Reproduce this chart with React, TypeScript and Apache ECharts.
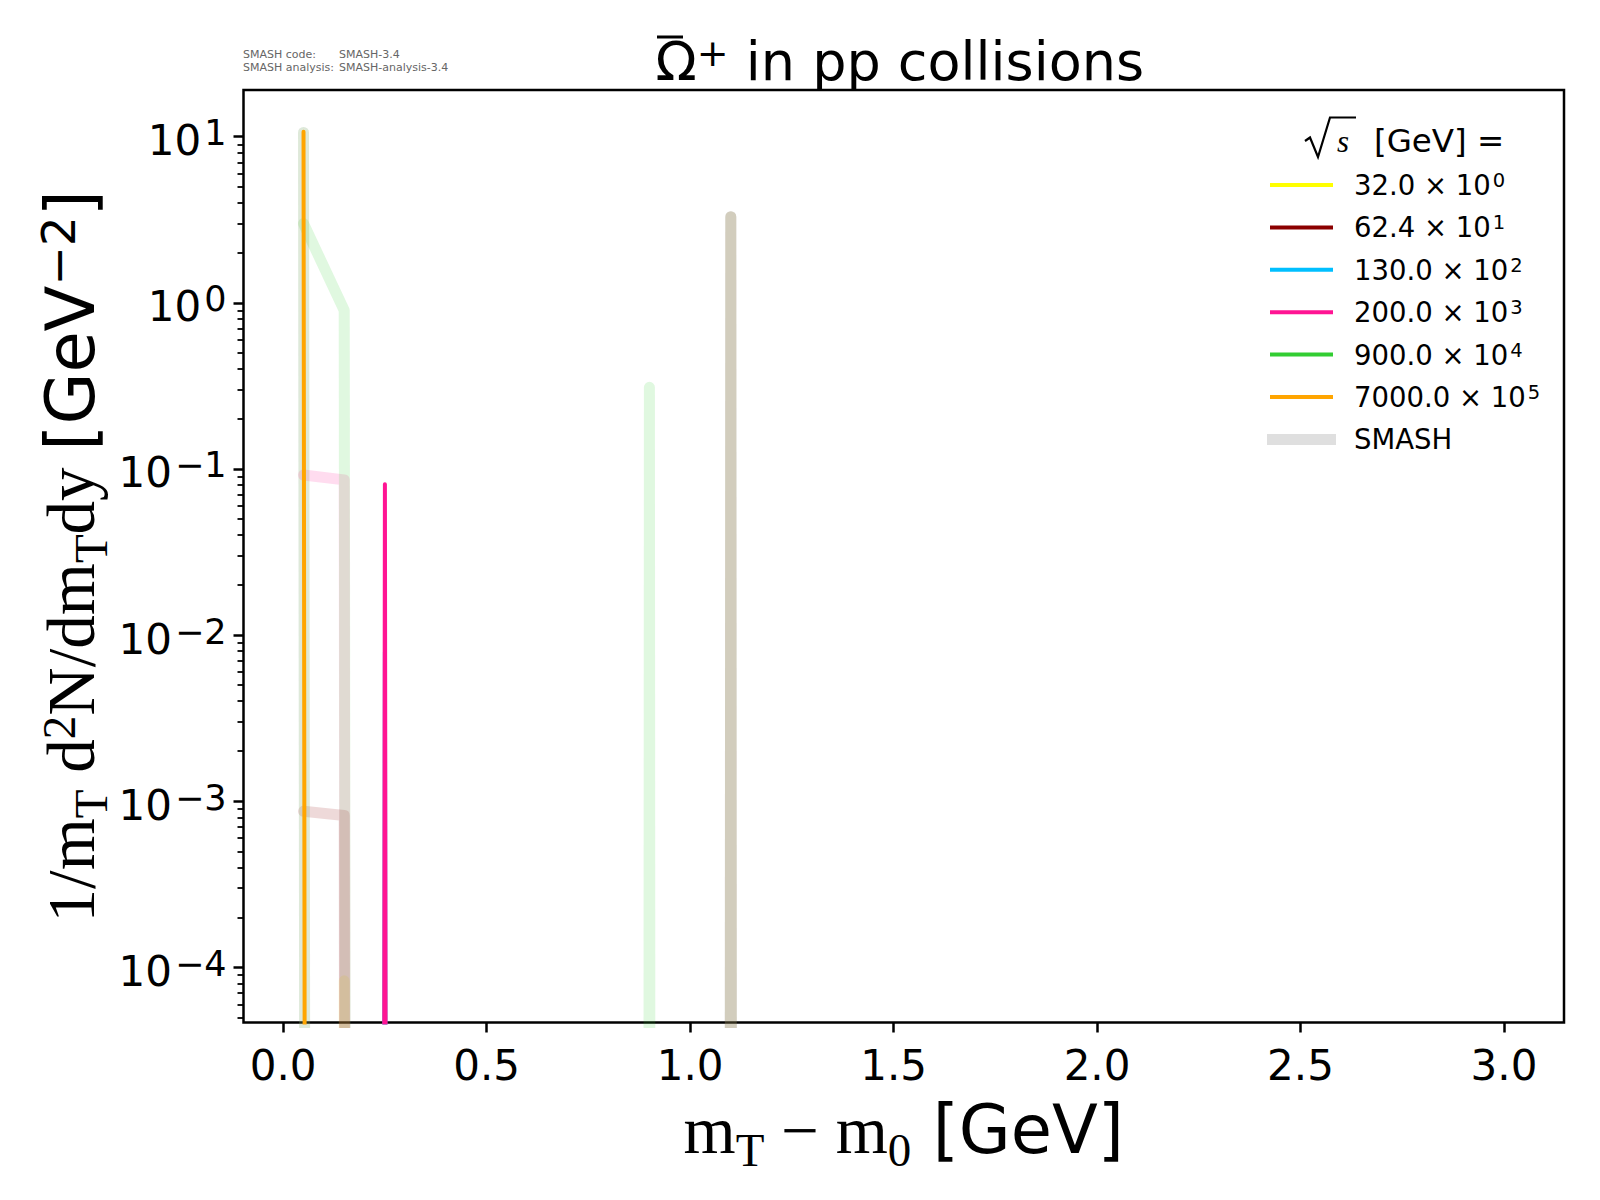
import React, { useEffect, useRef } from 'react';
import * as echarts from 'echarts';

// ---------- data ----------
const ENERGY_LABELS = ['32.0', '62.4', '130.0', '200.0', '900.0', '7000.0'];
const ENERGY_EXPONENTS = [0, 1, 2, 3, 4, 5];
const ENERGY_COLORS = ['#FFFF00', '#8B0000', '#00BFFF', '#FF1493', '#32CD32', '#FFA500'];

// SMASH curves (thick, translucent). 0 = empty bin (drawn down to -inf on the log axis)
const SMASH_32_X = [0.05, 0.15, 0.25, 3.0];
const SMASH_32_Y = [0, 8.3e-5, 0, 0];
const SMASH_62_X = [0.05, 0.15, 0.25, 1.05, 1.1, 1.15, 3.0];
const SMASH_62_Y = [8.7e-4, 8.2e-4, 0, 0, 3.3, 0, 0];
const SMASH_130_X = [0.05, 0.15, 1.05, 1.1, 1.15, 3.0];
const SMASH_130_Y = [10.6, 0, 0, 3.3, 0, 0];
const SMASH_200_X = [0.05, 0.15, 0.25, 3.0];
const SMASH_200_Y = [0.092, 0.086, 0, 0];
const SMASH_900_X = [0.05, 0.15, 0.25, 0.85, 0.9, 0.95, 3.0];
const SMASH_900_Y = [3.0, 0.9, 0, 0, 0.31, 0, 0];
const SMASH_7000_X = [0.05, 0.15, 1.05, 1.1, 1.15, 3.0];
const SMASH_7000_Y = [10.6, 0, 0, 3.3, 0, 0];

// Experimental data (thin lines)
const EXP_32_X = [0.05, 3.0];
const EXP_32_Y = [0, 0];
const EXP_62_X = [0.05, 3.0];
const EXP_62_Y = [0, 0];
const EXP_130_X = [0.15, 0.25, 0.35];
const EXP_130_Y = [0, 0.0079, 0];
const EXP_200_X = [0.15, 0.25, 0.35];
const EXP_200_Y = [0, 0.081, 0];
const EXP_900_X = [0.05, 3.0];
const EXP_900_Y = [0, 0];
const EXP_7000_X = [0.05, 0.15];
const EXP_7000_Y = [10.7, 0];

const SMASH_XS = [SMASH_32_X, SMASH_62_X, SMASH_130_X, SMASH_200_X, SMASH_900_X, SMASH_7000_X];
const SMASH_YS = [SMASH_32_Y, SMASH_62_Y, SMASH_130_Y, SMASH_200_Y, SMASH_900_Y, SMASH_7000_Y];
const EXP_XS = [EXP_32_X, EXP_62_X, EXP_130_X, EXP_200_X, EXP_900_X, EXP_7000_X];
const EXP_YS = [EXP_32_Y, EXP_62_Y, EXP_130_Y, EXP_200_Y, EXP_900_Y, EXP_7000_Y];

const X_TICKS = [0, 0.5, 1.0, 1.5, 2.0, 2.5, 3.0];
const Y_TICKS = [1e-4, 1e-3, 1e-2, 1e-1, 1, 10];
const X_MIN = -0.0975;
const X_MAX = 3.1475;
const Y_MIN = 4.66e-5;
const Y_MAX = 19.1;

// ---------- helpers ----------
const LOG_FLOOR = 1e-200; // stand-in for zero on the log axis
const toPairs = (xs: number[], ys: number[]) => xs.map((x, i) => [x, ys[i] > 0 ? ys[i] : LOG_FLOOR]);

const yMinor: number[] = [];
for (let k = -5; k <= 1; k++) {
  for (let m = 2; m <= 9; m++) {
    const v = m * Math.pow(10, k);
    if (v > Y_MIN && v < Y_MAX) yMinor.push(v);
  }
}

const supDigits = (e: number) => (e < 0 ? '\u2212' + String(-e) : String(e));

const NAME_RICH = {
  r: { fontFamily: 'Liberation Serif', fontSize: 67, lineHeight: 88, color: '#000', fontWeight: 'normal' },
  rsub: { fontFamily: 'Liberation Serif', fontSize: 47, lineHeight: 47, verticalAlign: 'bottom', color: '#000', fontWeight: 'normal' },
  rsup: { fontFamily: 'Liberation Serif', fontSize: 47, lineHeight: 47, verticalAlign: 'top', padding: [8.5, 0, 0, 0], color: '#000', fontWeight: 'normal' },
  g: { fontFamily: 'DejaVu Sans', fontSize: 67, lineHeight: 88, color: '#000', fontWeight: 'normal' },
  gsup: { fontFamily: 'DejaVu Sans', fontSize: 47, lineHeight: 47, verticalAlign: 'top', padding: [8.5, 0, 0, 0], color: '#000', fontWeight: 'normal' },
};

const TICK_STYLE = { color: '#000', width: 2.5 };

function buildOption() {
  const series: any[] = [];
  SMASH_XS.forEach((xs, i) => {
    series.push({
      type: 'line',
      name: 'SMASH ' + ENERGY_LABELS[i],
      data: toPairs(xs, SMASH_YS[i]),
      showSymbol: false,
      symbol: 'none',
      silent: true,
      clip: true,
      lineStyle: { color: ENERGY_COLORS[i], width: 11, opacity: 0.15, cap: 'round', join: 'round' },
      itemStyle: { color: ENERGY_COLORS[i] },
    });
  });
  EXP_XS.forEach((xs, i) => {
    series.push({
      type: 'line',
      name: ENERGY_LABELS[i],
      data: toPairs(xs, EXP_YS[i]),
      showSymbol: false,
      symbol: 'none',
      silent: true,
      clip: true,
      lineStyle: { color: ENERGY_COLORS[i], width: 4, opacity: 1, cap: 'round', join: 'round' },
      itemStyle: { color: ENERGY_COLORS[i] },
    });
  });

  // legend drawn as graphic (matplotlib style)
  const legendX0 = 1270;
  const legendX1 = 1333;
  const legendTextX = 1354;
  const legendY0 = 185;
  const legendStep = 42.4;
  const graphic: any[] = [];
  ENERGY_LABELS.forEach((lab, i) => {
    const y = legendY0 + i * legendStep;
    graphic.push({
      type: 'line',
      shape: { x1: legendX0, y1: y, x2: legendX1, y2: y },
      style: { stroke: ENERGY_COLORS[i], lineWidth: 4 },
      silent: true,
    });
    graphic.push({
      type: 'text',
      x: legendTextX,
      y,
      silent: true,
      style: {
        text: `{b|${lab} \u00d7 10}{s|${ENERGY_EXPONENTS[i]}}`,
        align: 'left',
        verticalAlign: 'middle',
        textAlign: 'left',
        textVerticalAlign: 'middle',
        rich: {
          b: { fontFamily: 'DejaVu Sans', fontSize: 27.5, lineHeight: 29, fill: '#000', color: '#000' },
          s: { fontFamily: 'DejaVu Sans', fontSize: 19.5, lineHeight: 15, verticalAlign: 'top', fill: '#000', color: '#000', padding: [0, 0, 0, 2] },
        },
      },
    });
  });
  const smashY = legendY0 + ENERGY_LABELS.length * legendStep;
  graphic.push({
    type: 'line',
    shape: { x1: 1267, y1: smashY, x2: 1336, y2: smashY },
    style: { stroke: '#DFDFDF', lineWidth: 11 },
    silent: true,
  });
  graphic.push({
    type: 'text',
    x: legendTextX,
    y: smashY,
    silent: true,
    style: {
      text: 'SMASH',
      fontFamily: 'DejaVu Sans',
      fontSize: 27.5,
      fill: '#000',
      align: 'left',
      verticalAlign: 'middle',
      textAlign: 'left',
      textVerticalAlign: 'middle',
    },
  });
  // legend title: sqrt(s) [GeV] =
  graphic.push({
    type: 'polyline',
    shape: { points: [[1305, 141], [1310, 137.5], [1318, 157], [1330, 117.5], [1356, 117.5]] },
    style: { stroke: '#000', lineWidth: 2.2, fill: null },
    silent: true,
  });
  graphic.push({
    type: 'text',
    x: 1337,
    y: 141,
    silent: true,
    style: {
      text: 's',
      fontFamily: 'Liberation Serif',
      fontStyle: 'italic',
      fontSize: 31,
      fill: '#000',
      align: 'left',
      verticalAlign: 'middle',
      textAlign: 'left',
      textVerticalAlign: 'middle',
    },
  });
  graphic.push({
    type: 'text',
    x: 1374,
    y: 141,
    silent: true,
    style: {
      text: '[GeV] =',
      fontFamily: 'DejaVu Sans',
      fontSize: 32.5,
      fill: '#000',
      align: 'left',
      verticalAlign: 'middle',
      textAlign: 'left',
      textVerticalAlign: 'middle',
    },
  });
  // bar over Omega (antiparticle)
  graphic.push({
    type: 'line',
    shape: { x1: 657, y1: 37, x2: 683, y2: 37 },
    style: { stroke: '#000', lineWidth: 3 },
    silent: true,
  });
  // SMASH version info
  const meta = [
    { x: 243, y: 54, t: 'SMASH code:' },
    { x: 339, y: 54, t: 'SMASH-3.4' },
    { x: 243, y: 67, t: 'SMASH analysis:' },
    { x: 339, y: 67, t: 'SMASH-analysis-3.4' },
  ];
  meta.forEach((m) => {
    graphic.push({
      type: 'text',
      x: m.x,
      y: m.y,
      silent: true,
      style: {
        text: m.t,
        fontFamily: 'DejaVu Sans',
        fontSize: 11,
        fill: '#666',
        align: 'left',
        verticalAlign: 'middle',
        textAlign: 'left',
        textVerticalAlign: 'middle',
      },
    });
  });

  return {
    animation: false,
    backgroundColor: '#ffffff',
    title: {
      text: '{t|\u03a9}{ts|+}{t| in pp collisions}',
      left: 655.5,
      top: 34,
      padding: 0,
      textStyle: {
        fontWeight: 'normal',
        rich: {
          t: { fontFamily: 'DejaVu Sans', fontSize: 54, lineHeight: 54, color: '#000', fontWeight: 'normal' },
          ts: { fontFamily: 'DejaVu Sans', fontSize: 38, lineHeight: 40, verticalAlign: 'top', color: '#000', fontWeight: 'normal' },
        },
      },
    },
    grid: {
      left: 243.5,
      top: 90,
      right: 36,
      bottom: 177.5,
      show: true,
      borderColor: '#000',
      borderWidth: 2.5,
      backgroundColor: 'transparent',
      containLabel: false,
      outerBoundsMode: 'none',
    },
    xAxis: {
      type: 'value',
      min: X_MIN,
      max: X_MAX,
      name: '{r|m}{rsub|T}{r| \u2212 m}{rsub|0}{g| [GeV]}',
      nameLocation: 'middle',
      nameGap: 63,
      nameMoveOverlap: false,
      nameTextStyle: { rich: NAME_RICH },
      axisLine: { show: false, onZero: false },
      axisTick: { show: true, customValues: X_TICKS, length: 10, lineStyle: TICK_STYLE },
      axisLabel: {
        customValues: X_TICKS,
        formatter: (v: number) => v.toFixed(1),
        fontSize: 42,
        lineHeight: 42,
        fontFamily: 'DejaVu Sans',
        color: '#000',
        margin: 22,
      },
      splitLine: { show: false },
    },
    yAxis: [
      {
        type: 'log',
        logBase: 10,
        min: Y_MIN,
        max: Y_MAX,
        name: '{r|1/m}{rsub|T}{r| d}{rsup|2}{r|N/dm}{rsub|T}{r|dy }{g|[GeV}{gsup|\u22122}{g|]}',
        nameLocation: 'middle',
        nameRotate: 90,
        nameGap: 129,
        nameMoveOverlap: false,
        nameTextStyle: { rich: NAME_RICH },
        axisLine: { show: false, onZero: false },
        axisTick: { show: true, customValues: Y_TICKS, length: 10, lineStyle: TICK_STYLE },
        axisLabel: {
          customValues: Y_TICKS,
          margin: 17,
          padding: [8, 0, 0, 0],
          formatter: (v: number) => `{b|10}{s|${supDigits(Math.round(Math.log10(v)))}}`,
          rich: {
            b: { fontFamily: 'DejaVu Sans', fontSize: 42, lineHeight: 50, color: '#000' },
            s: { fontFamily: 'DejaVu Sans', fontSize: 35, lineHeight: 35, verticalAlign: 'top', color: '#000', padding: [0, 0, 0, 3] },
          },
        },
        splitLine: { show: false },
      },
      {
        type: 'log',
        logBase: 10,
        min: Y_MIN,
        max: Y_MAX,
        position: 'left',
        axisLine: { show: false, onZero: false },
        axisLabel: { show: false },
        axisTick: { show: true, customValues: yMinor, length: 6, lineStyle: { color: '#000', width: 1.8 } },
        splitLine: { show: false },
      },
    ],
    series,
    graphic,
  };
}

export default function App() {
  const ref = useRef<HTMLDivElement>(null);
  useEffect(() => {
    if (!ref.current) return;
    const chart = echarts.init(ref.current, undefined, { renderer: 'svg', width: 1600, height: 1200 });
    chart.setOption(buildOption() as any);
    return () => chart.dispose();
  }, []);
  return (
    <div
      ref={ref}
      style={{ position: 'fixed', left: 0, top: 0, width: 1600, height: 1200, background: '#ffffff' }}
    />
  );
}
